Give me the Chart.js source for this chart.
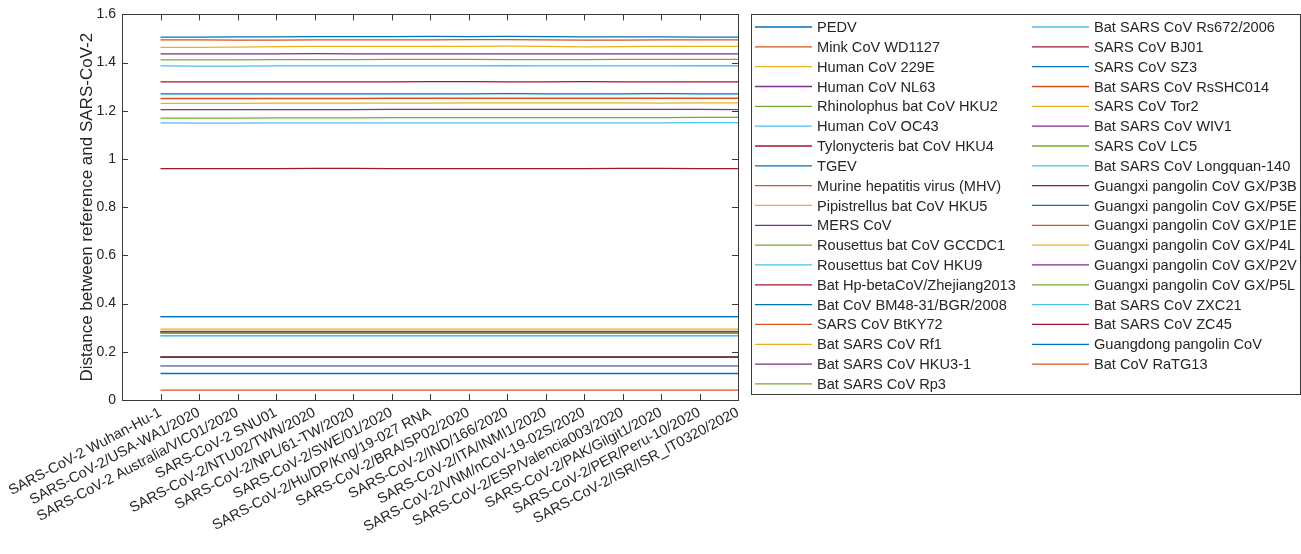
<!DOCTYPE html>
<html lang="en">
<head>
<meta charset="UTF-8">
<title>Distance between reference and SARS-CoV-2</title>
<script src="https://cdn.jsdelivr.net/npm/chart.js@4.4.7/dist/chart.umd.min.js"></script>
<style>
*{box-sizing:border-box;margin:0;padding:0}
body{background:#fff;width:1301px;height:554px;overflow:hidden}
#wrap{position:relative;width:1301px;height:554px}
</style>
</head>
<body>
<div id="wrap"><canvas id="chart"></canvas></div>
<script>
// reference strains on the x axis
const strains = [
  'SARS-CoV-2 Wuhan-Hu-1', 'SARS-CoV-2/USA-WA1/2020', 'SARS-CoV-2 Australia/VIC01/2020',
  'SARS-CoV-2 SNU01', 'SARS-CoV-2/NTU02/TWN/2020', 'SARS-CoV-2/NPL/61-TW/2020',
  'SARS-CoV-2/SWE/01/2020', 'SARS-CoV-2/Hu/DP/Kng/19-027 RNA', 'SARS-CoV-2/BRA/SP02/2020',
  'SARS-CoV-2/IND/166/2020', 'SARS-CoV-2/ITA/INMI1/2020', 'SARS-CoV-2/VNM/nCoV-19-02S/2020',
  'SARS-CoV-2/ESP/Valencia003/2020', 'SARS-CoV-2/PAK/Gilgit1/2020', 'SARS-CoV-2/PER/Peru-10/2020',
  'SARS-CoV-2/ISR/ISR_IT0320/2020'
];

const viruses = [
  'PEDV', 'Mink CoV WD1127', 'Human CoV 229E', 'Human CoV NL63', 'Rhinolophus bat CoV HKU2',
  'Human CoV OC43', 'Tylonycteris bat CoV HKU4', 'TGEV', 'Murine hepatitis virus (MHV)',
  'Pipistrellus bat CoV HKU5', 'MERS CoV', 'Rousettus bat CoV GCCDC1', 'Rousettus bat CoV HKU9',
  'Bat Hp-betaCoV/Zhejiang2013', 'Bat CoV BM48-31/BGR/2008', 'SARS CoV BtKY72', 'Bat SARS CoV Rf1',
  'Bat SARS CoV HKU3-1', 'Bat SARS CoV Rp3',
  'Bat SARS CoV Rs672/2006', 'SARS CoV BJ01', 'SARS CoV SZ3', 'Bat SARS CoV RsSHC014',
  'SARS CoV Tor2', 'Bat SARS CoV WIV1', 'SARS CoV LC5', 'Bat SARS CoV Longquan-140',
  'Guangxi pangolin CoV GX/P3B', 'Guangxi pangolin CoV GX/P5E', 'Guangxi pangolin CoV GX/P1E',
  'Guangxi pangolin CoV GX/P4L', 'Guangxi pangolin CoV GX/P2V', 'Guangxi pangolin CoV GX/P5L',
  'Bat SARS CoV ZXC21', 'Bat SARS CoV ZC45', 'Guangdong pangolin CoV', 'Bat CoV RaTG13'
];

// one row per virus, one value per reference strain
const distances = [
  [1.506,1.506,1.507,1.507,1.508,1.508,1.508,1.509,1.508,1.509,1.508,1.507,1.507,1.507,1.506,1.506],
  [1.494,1.494,1.493,1.493,1.494,1.494,1.494,1.494,1.495,1.495,1.494,1.493,1.493,1.494,1.494,1.494],
  [1.463,1.463,1.464,1.466,1.467,1.467,1.467,1.467,1.467,1.468,1.467,1.465,1.466,1.467,1.467,1.467],
  [1.436,1.436,1.436,1.436,1.437,1.436,1.436,1.436,1.436,1.436,1.436,1.436,1.436,1.436,1.436,1.436],
  [1.411,1.411,1.411,1.412,1.412,1.412,1.413,1.413,1.413,1.412,1.412,1.412,1.413,1.413,1.413,1.413],
  [1.386,1.385,1.385,1.386,1.386,1.386,1.386,1.386,1.386,1.387,1.386,1.386,1.386,1.386,1.387,1.387],
  [1.320,1.320,1.320,1.320,1.320,1.320,1.320,1.321,1.321,1.320,1.320,1.321,1.320,1.320,1.320,1.320],
  [1.270,1.270,1.270,1.270,1.270,1.270,1.270,1.270,1.270,1.271,1.270,1.270,1.270,1.271,1.270,1.270],
  [1.251,1.251,1.251,1.251,1.251,1.251,1.252,1.252,1.252,1.252,1.252,1.252,1.252,1.252,1.252,1.252],
  [1.231,1.231,1.231,1.232,1.232,1.232,1.232,1.232,1.233,1.233,1.233,1.233,1.233,1.232,1.233,1.233],
  [1.205,1.205,1.205,1.205,1.205,1.205,1.206,1.206,1.206,1.206,1.206,1.206,1.206,1.206,1.206,1.205],
  [1.170,1.170,1.170,1.171,1.171,1.171,1.172,1.172,1.172,1.172,1.172,1.172,1.172,1.172,1.173,1.173],
  [1.150,1.149,1.149,1.150,1.150,1.150,1.150,1.150,1.150,1.150,1.150,1.150,1.150,1.150,1.151,1.151],
  [0.960,0.960,0.960,0.960,0.961,0.961,0.960,0.960,0.960,0.960,0.960,0.960,0.961,0.961,0.960,0.960],
  [0.346,0.346,0.346,0.346,0.346,0.346,0.346,0.346,0.346,0.346,0.346,0.346,0.346,0.346,0.346,0.346],
  [0.346,0.346,0.346,0.346,0.346,0.346,0.346,0.346,0.346,0.346,0.346,0.346,0.346,0.346,0.346,0.346],
  [0.294,0.294,0.294,0.294,0.294,0.294,0.294,0.294,0.294,0.294,0.294,0.294,0.294,0.294,0.294,0.294],
  [0.284,0.284,0.284,0.284,0.284,0.284,0.284,0.284,0.284,0.284,0.284,0.284,0.284,0.284,0.284,0.284],
  [0.279,0.279,0.279,0.279,0.279,0.279,0.279,0.279,0.279,0.279,0.279,0.279,0.279,0.279,0.279,0.279],
  [0.266,0.266,0.266,0.266,0.266,0.266,0.266,0.266,0.266,0.266,0.266,0.266,0.266,0.266,0.266,0.266],
  [0.283,0.283,0.283,0.283,0.283,0.283,0.284,0.284,0.284,0.284,0.283,0.283,0.283,0.283,0.283,0.283],
  [0.283,0.283,0.283,0.283,0.283,0.283,0.283,0.283,0.283,0.283,0.283,0.283,0.283,0.283,0.283,0.283],
  [0.285,0.285,0.285,0.285,0.285,0.285,0.285,0.285,0.285,0.285,0.285,0.285,0.285,0.285,0.285,0.285],
  [0.284,0.284,0.284,0.284,0.284,0.284,0.284,0.284,0.284,0.284,0.284,0.284,0.284,0.284,0.284,0.284],
  [0.282,0.282,0.282,0.282,0.282,0.282,0.282,0.282,0.282,0.282,0.282,0.282,0.282,0.282,0.282,0.282],
  [0.277,0.277,0.277,0.277,0.277,0.277,0.277,0.277,0.277,0.277,0.277,0.277,0.277,0.277,0.277,0.277],
  [0.267,0.267,0.267,0.267,0.267,0.267,0.267,0.267,0.267,0.267,0.267,0.267,0.267,0.267,0.267,0.267],
  [0.178,0.178,0.178,0.178,0.178,0.178,0.178,0.178,0.178,0.178,0.178,0.178,0.178,0.178,0.178,0.178],
  [0.178,0.178,0.178,0.178,0.178,0.178,0.178,0.178,0.178,0.178,0.178,0.178,0.178,0.178,0.178,0.178],
  [0.178,0.178,0.178,0.178,0.178,0.178,0.178,0.178,0.178,0.178,0.178,0.178,0.178,0.178,0.178,0.178],
  [0.178,0.178,0.178,0.178,0.178,0.178,0.178,0.178,0.178,0.178,0.178,0.178,0.178,0.178,0.178,0.178],
  [0.178,0.178,0.178,0.178,0.178,0.178,0.178,0.178,0.178,0.178,0.178,0.178,0.178,0.178,0.178,0.178],
  [0.178,0.178,0.178,0.178,0.178,0.178,0.178,0.178,0.178,0.178,0.178,0.178,0.178,0.178,0.178,0.178],
  [0.142,0.142,0.142,0.142,0.142,0.142,0.142,0.142,0.142,0.142,0.142,0.142,0.142,0.142,0.142,0.142],
  [0.142,0.142,0.142,0.142,0.142,0.142,0.142,0.142,0.142,0.142,0.142,0.142,0.142,0.142,0.142,0.142],
  [0.110,0.110,0.110,0.110,0.110,0.110,0.110,0.110,0.110,0.110,0.110,0.110,0.110,0.110,0.110,0.110],
  [0.041,0.041,0.041,0.041,0.041,0.041,0.041,0.041,0.041,0.041,0.041,0.041,0.041,0.041,0.041,0.041]
];

const yTicks = [0, 0.2, 0.4, 0.6, 0.8, 1, 1.2, 1.4, 1.6];

// MATLAB default line colour order
const palette = ['#0072BD', '#D95319', '#EDB120', '#7E2F8E', '#77AC30', '#4DBEEE', '#A2142F'];
const FONT = "'Liberation Sans', Arial, Helvetica, sans-serif";
const INK = '#262626';

const datasets = viruses.map((name, i) => ({
  label: name,
  data: distances[i].map((v, j) => ({ x: j + 1, y: v })),
  borderColor: palette[i % palette.length],
  borderWidth: 1.3,
  pointRadius: 0,
  tension: 0,
  fill: false,
}));

// box around the axes with inward ticks on all four sides
const axesBox = {
  id: 'axesBox',
  afterDatasetsDraw(chart) {
    const { ctx, chartArea: a, scales: { x, y } } = chart;
    ctx.save();
    ctx.strokeStyle = '#3a3a3a';
    ctx.lineWidth = 1;
    ctx.strokeRect(Math.round(a.left) + 0.5, Math.round(a.top) + 0.5, Math.round(a.right - a.left), Math.round(a.bottom - a.top));
    ctx.beginPath();
    x.ticks.forEach(t => {
      const px = Math.round(x.getPixelForValue(t.value)) + 0.5;
      ctx.moveTo(px, a.bottom); ctx.lineTo(px, a.bottom - 6);
      ctx.moveTo(px, a.top); ctx.lineTo(px, a.top + 6);
    });
    y.ticks.forEach(t => {
      const py = Math.round(y.getPixelForValue(t.value)) + 0.5;
      ctx.moveTo(a.left, py); ctx.lineTo(a.left + 6, py);
      ctx.moveTo(a.right, py); ctx.lineTo(a.right - 6, py);
    });
    ctx.stroke();
    ctx.restore();
  }
};

// two-column legend box to the right of the axes
const legendBox = {
  id: 'legendBox',
  afterDraw(chart) {
    const { ctx } = chart;
    const perCol = 19;
    ctx.save();
    ctx.fillStyle = '#fff';
    ctx.strokeStyle = '#3a3a3a';
    ctx.lineWidth = 1;
    ctx.fillRect(751.5, 14.5, 549, 380);
    ctx.strokeRect(751.5, 14.5, 549, 380);
    ctx.font = '14.6px ' + FONT;
    ctx.textBaseline = 'middle';
    chart.data.datasets.forEach((ds, i) => {
      const col = i < perCol ? 0 : 1;
      const row = col ? i - perCol : i;
      const x0 = col ? 1032 : 755;
      const yy = 27 + row * 19.83;
      ctx.strokeStyle = ds.borderColor;
      ctx.lineWidth = 1.3;
      ctx.beginPath();
      ctx.moveTo(x0, yy); ctx.lineTo(x0 + 57, yy);
      ctx.stroke();
      ctx.fillStyle = INK;
      ctx.fillText(ds.label, x0 + 62, yy + 1);
    });
    ctx.restore();
  }
};

new Chart(document.getElementById('chart'), {
  type: 'line',
  data: { datasets },
  plugins: [axesBox, legendBox],
  options: {
    responsive: true,
    maintainAspectRatio: false,
    animation: false,
    layout: { padding: { top: 13, right: 563, left: 0, bottom: 0 } },
    plugins: { legend: { display: false }, tooltip: { enabled: false } },
    scales: {
      x: {
        type: 'linear',
        min: 0,
        max: strains.length,
        grid: { display: false, drawTicks: false },
        border: { display: false },
        afterBuildTicks: s => { s.ticks = strains.map((_, i) => ({ value: i + 1 })); },
        afterFit: s => { s.height = 154; s.paddingLeft = 0; s.paddingRight = 0; },
        ticks: {
          autoSkip: false,
          minRotation: 28,
          maxRotation: 28,
          padding: 4,
          color: INK,
          font: { family: FONT, size: 14.5 },
          callback: v => strains[v - 1] || '',
        },
      },
      y: {
        min: 0,
        max: 1.6,
        grid: { display: false, drawTicks: false },
        border: { display: false },
        afterBuildTicks: s => { s.ticks = yTicks.map(v => ({ value: v })); },
        afterFit: s => { s.width = 122; },
        ticks: {
          padding: 6,
          color: INK,
          font: { family: FONT, size: 14 },
          callback: v => String(v),
        },
        title: {
          display: true,
          text: 'Distance between reference and SARS-CoV-2',
          color: INK,
          font: { family: FONT, size: 17 },
          padding: { top: 77, bottom: 0 },
        },
      },
    },
  },
});
</script>
</body>
</html>
